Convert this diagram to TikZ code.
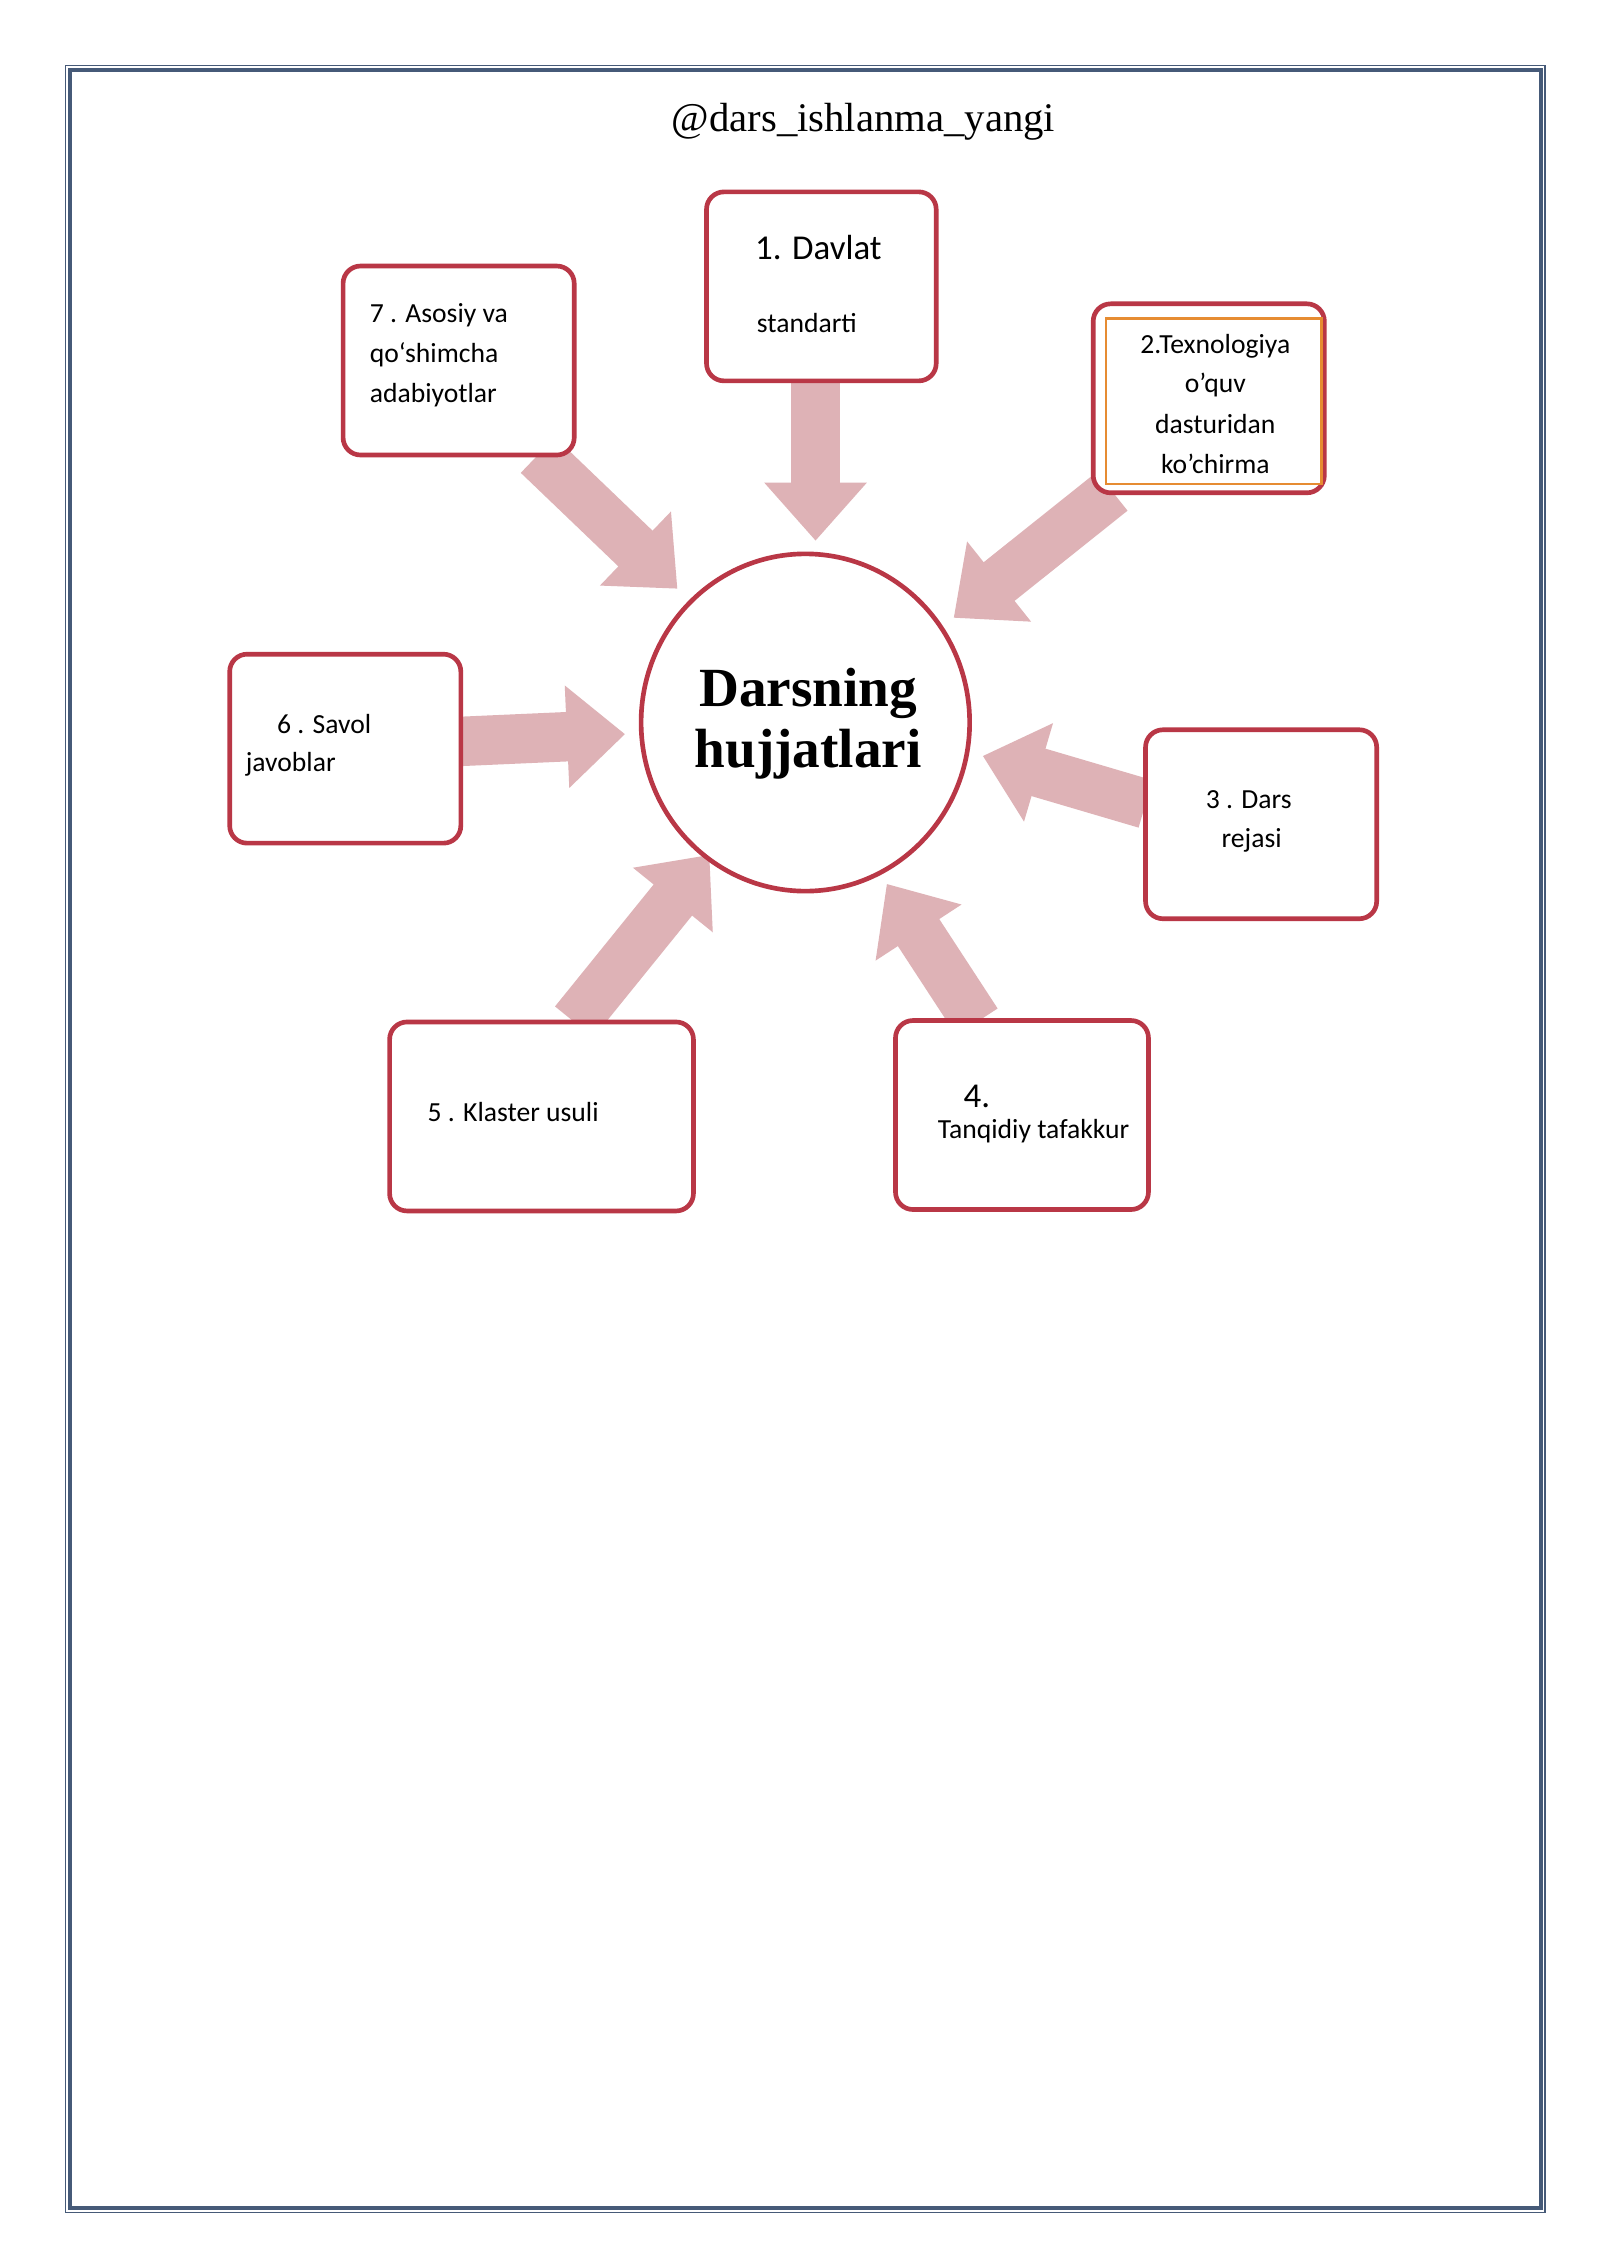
\documentclass[tikz,border=0pt]{standalone}
\usepackage{fontspec}
\setmainfont{Carlito}
\newfontfamily\serifd{Liberation Serif}
\usetikzlibrary{arrows.meta}
\definecolor{boxred}{RGB}{185,55,70}
\definecolor{arrpink}{RGB}{222,178,182}
\definecolor{framec}{RGB}{70,90,120}
\definecolor{orng}{RGB}{230,140,50}
\tikzset{
 bx/.style={draw=boxred,line width=1.6pt,rounded corners=6pt},
 tx/.style={font=\fontsize{9.5}{11}\selectfont,inner sep=0pt},
 ar/.style={draw=arrpink,line width=17pt,-{Triangle[width=34pt,length=20pt]}},
}
\begin{document}
\begin{tikzpicture}[x=0.5pt,y=-0.5pt]
\useasboundingbox (0,0) rectangle (1100,1556);
\fill[white] (0,0) rectangle (1100,1556);
\draw[framec,line width=0.6pt] (45,45) rectangle (1063,1522);
\draw[framec,line width=1.2pt] (48,48) rectangle (1060,1519);
\node[font=\serifd\fontsize{14}{16}\selectfont] (title) at (594,84) {@dars\_ishlanma\_yangi};
% arrows
\coordinate (a1s) at (561,262); \coordinate (a1e) at (561,372);
\coordinate (a7s) at (370,313); \coordinate (a7e) at (466,405);
\coordinate (a2s) at (765,338); \coordinate (a2e) at (656,425);
\coordinate (a6s) at (317,510); \coordinate (a6e) at (430,505);
\coordinate (a3s) at (788,553); \coordinate (a3e) at (676,520);
\coordinate (a5s) at (395,703); \coordinate (a5e) at (488,588);
\coordinate (a4s) at (672,703); \coordinate (a4e) at (610,608);
\foreach \i in {1,7,2,6,3,5,4} \draw[ar] (a\i s) -- (a\i e);
% circle
\draw[boxred,line width=1.6pt,fill=white] (554,497) ellipse (113 and 116);
\node[font=\serifd\bfseries\fontsize{19}{21}\selectfont,align=center] (c) at (556,498) {Darsning\\hujjatlari};
% boxes
\draw[bx,fill=white] (486,132) rectangle (644,262);
\node[font=\fontsize{12}{14}\selectfont] (b1a) at (563,170) {1. Davlat};
\node[tx] (b1b) at (555,222) {standarti};
\draw[bx,fill=white] (236,183) rectangle (395,313);
\node[tx,anchor=west] (b7a) at (254,217) {7 . Asosiy va};
\node[tx,anchor=west] (b7b) at (254,244) {qo\char96 shimcha};
\node[tx,anchor=west] (b7c) at (254,272) {adabiyotlar};
\draw[bx,fill=white] (752,209) rectangle (911,339);
\draw[orng,line width=0.8pt] (761,219) rectangle (909,333);
\node[tx] (b2a) at (836,238) {2.Texnologiya};
\node[tx] (b2b) at (836,265) {o’quv};
\node[tx] (b2c) at (836,292) {dasturidan};
\node[tx] (b2d) at (836,319) {ko’chirma};
\draw[bx,fill=white] (158,450) rectangle (317,580);
\node[tx] (b6a) at (223,498) {6 . Savol};
\node[tx] (b6b) at (200,526) {javoblar};
\draw[bx,fill=white] (788,502) rectangle (947,632);
\node[tx] (b3a) at (859,550) {3 . Dars};
\node[tx] (b3b) at (861,578) {rejasi};
\draw[bx,fill=white] (268,703) rectangle (477,833);
\node[tx] (b5) at (353,765) {5 . Klaster usuli};
\draw[bx,fill=white] (616,702) rectangle (790,832);
\node[font=\fontsize{12}{14}\selectfont] (b4a) at (672,754) {4.};
\node[tx] (b4b) at (711,778) {Tanqidiy tafakkur};
\end{tikzpicture}
\end{document}
